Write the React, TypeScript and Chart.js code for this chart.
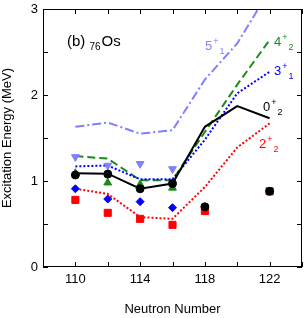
import React, { useEffect, useRef } from "react";
import { Chart, registerables } from "chart.js";

Chart.register(...registerables);

const neutrons = [110, 112, 114, 116, 118, 120, 122];
const line5p1 = [1.63, 1.68, 1.55, 1.59, 2.18, 2.6, 3.22];
const line4p2 = [1.29, 1.26, 1.01, 1.01, 1.57, 2.12, 2.64];
const line3p1 = [1.17, 1.18, 1.02, 1.02, 1.48, 2.02, 2.27];
const line0p2 = [1.09, 1.085, 0.91, 0.97, 1.63, 1.87, 1.73];
const line2p2 = [0.91, 0.85, 0.58, 0.56, 0.93, 1.39, 1.67];

const expNeutrons = [110, 112, 114, 116, 118, 122];
const exp0p2 = [1.07, 1.08, 0.91, 0.97, 0.7, 0.88];
const exp2p2 = [0.78, 0.63, 0.56, 0.49, 0.65, 0.88];
const exp3Neutrons = [110, 112, 114, 116];
const exp3p1 = [0.91, 0.79, 0.76, 0.69];
const exp4p2 = [1.09, 0.98, 0.96, 0.92];
const exp5p1 = [1.28, 1.18, 1.2, 1.14];

const PURPLE = "#8080ff";
const GREEN = "#1a8a1a";
const BLUE = "#0000ff";
const RED = "#ff0000";
const BLACK = "#000000";
const FONT = "'Liberation Sans', Arial, sans-serif";

const pts = (xs: number[], ys: number[]) => xs.map((x, i) => ({ x, y: ys[i] }));

function drawLevel(ctx: CanvasRenderingContext2D, x: number, y: number, main: string, sub: string, color: string) {
  ctx.fillStyle = color;
  ctx.textAlign = "left";
  ctx.textBaseline = "alphabetic";
  ctx.font = `13px ${FONT}`;
  ctx.fillText(main, x, y);
  const w = ctx.measureText(main).width;
  ctx.font = `9px ${FONT}`;
  ctx.fillText("+", x + w + 1, y - 6);
  const w2 = ctx.measureText("+").width;
  ctx.fillText(sub, x + w + 1 + w2 + 1, y + 4);
}

const decor = {
  id: "decor",
  afterDraw(chart: any) {
    const { ctx, chartArea: a, scales } = chart;
    const xs = scales.x;
    const ys = scales.y;
    ctx.save();
    ctx.strokeStyle = "#000";
    ctx.lineWidth = 1;
    ctx.strokeRect(a.left + 0.5, a.top + 0.5, a.right - a.left - 1, a.bottom - a.top - 1);
    ctx.beginPath();
    for (let v = 108; v <= 124; v += 2) {
      const px = Math.round(xs.getPixelForValue(v)) + 0.5;
      ctx.moveTo(px, a.bottom);
      ctx.lineTo(px, a.bottom - 5);
      ctx.moveTo(px, a.top);
      ctx.lineTo(px, a.top + 5);
    }
    for (let v = 0; v <= 3; v += 0.5) {
      const py = Math.round(ys.getPixelForValue(v)) + 0.5;
      ctx.moveTo(a.left, py);
      ctx.lineTo(a.left + 5, py);
      ctx.moveTo(a.right, py);
      ctx.lineTo(a.right - 5, py);
    }
    ctx.stroke();

    ctx.fillStyle = "#000";
    ctx.textBaseline = "alphabetic";
    ctx.textAlign = "left";
    ctx.font = `15px ${FONT}`;
    ctx.fillText("(b)", 67, 46);
    const wb = ctx.measureText("(b) ").width;
    ctx.font = `10px ${FONT}`;
    ctx.fillText("76", 67 + wb, 50);
    const w76 = ctx.measureText("76").width;
    ctx.font = `15px ${FONT}`;
    ctx.fillText("Os", 67 + wb + w76 + 1, 46);

    drawLevel(ctx, 205, 50, "5", "1", PURPLE);
    drawLevel(ctx, 274, 46, "4", "2", GREEN);
    drawLevel(ctx, 274, 75, "3", "1", BLUE);
    drawLevel(ctx, 263, 111, "0", "2", BLACK);
    drawLevel(ctx, 259, 148, "2", "2", RED);

    ctx.fillStyle = "#000";
    ctx.font = `13px ${FONT}`;
    ctx.textAlign = "center";
    ctx.textBaseline = "middle";
    ctx.fillText("Neutron Number", (a.left + a.right) / 2, 309);
    ctx.translate(7, (a.top + a.bottom) / 2);
    ctx.rotate(-Math.PI / 2);
    ctx.fillText("Excitation Energy (MeV)", 0, 0);
    ctx.restore();
  },
};

const noPad = (s: any) => {
  s.paddingLeft = 0;
  s.paddingRight = 0;
  s.paddingTop = 0;
  s.paddingBottom = 0;
};

export default function App() {
  const ref = useRef<HTMLCanvasElement>(null);
  useEffect(() => {
    if (!ref.current) return;
    const lineDs = (data: number[], color: string, dash: number[]) => ({
      type: "line" as const,
      data: pts(neutrons, data),
      borderColor: color,
      backgroundColor: color,
      borderWidth: 2,
      borderDash: dash,
      pointRadius: 0,
      tension: 0,
      fill: false,
    });
    const markDs = (xs: number[], data: number[], color: string, style: string, r: number, rot = 0) => ({
      type: "line" as const,
      data: pts(xs, data),
      showLine: false,
      pointStyle: style,
      pointRadius: r,
      pointRotation: rot,
      pointBackgroundColor: color,
      pointBorderColor: color,
      pointBorderWidth: 1,
      borderColor: color,
      backgroundColor: color,
    });
    const chart = new Chart(ref.current, {
      type: "line",
      data: {
        datasets: [
          markDs(expNeutrons, exp0p2, BLACK, "circle", 4),
          markDs(expNeutrons, exp2p2, RED, "rect", 5),
          markDs(exp3Neutrons, exp3p1, BLUE, "rectRot", 4),
          markDs(exp3Neutrons, exp4p2, GREEN, "triangle", 4.5),
          markDs(exp3Neutrons, exp5p1, PURPLE, "triangle", 4.5, 180),
          lineDs(line0p2, BLACK, []),
          lineDs(line2p2, RED, [2, 2]),
          lineDs(line3p1, BLUE, [2, 2]),
          lineDs(line4p2, GREEN, [8, 4]),
          lineDs(line5p1, PURPLE, [9, 3, 2, 3]),
        ] as any,
      },
      plugins: [decor],
      options: {
        animation: false,
        responsive: false,
        layout: { padding: { top: 9, right: 0, left: 0, bottom: 0 } },
        plugins: { legend: { display: false }, tooltip: { enabled: false } },
        scales: {
          x: {
            type: "linear",
            min: 108,
            max: 124,
            afterFit: (s: any) => { s.height = 51; noPad(s); },
            grid: { display: false, drawTicks: false },
            border: { display: false },
            ticks: {
              stepSize: 2,
              padding: 5,
              color: "#000",
              font: { family: FONT, size: 13 },
              maxRotation: 0,
              autoSkip: false,
              callback: (v: any) => (Number(v) % 4 === 2 ? String(v) : ""),
            },
          },
          y: {
            type: "linear",
            min: 0,
            max: 3,
            afterFit: (s: any) => { s.width = 43; noPad(s); },
            grid: { display: false, drawTicks: false },
            border: { display: false },
            ticks: {
              stepSize: 0.5,
              padding: 5,
              color: "#000",
              font: { family: FONT, size: 13 },
              autoSkip: false,
              callback: (v: any) => (Number.isInteger(Number(v)) ? String(v) : ""),
            },
          },
        },
      },
    });
    return () => chart.destroy();
  }, []);
  return (
    <div style={{ position: "fixed", left: 0, top: 0, width: 305, height: 318, overflow: "hidden", background: "#fff" }}>
      <canvas ref={ref} width={308} height={318} />
    </div>
  );
}
